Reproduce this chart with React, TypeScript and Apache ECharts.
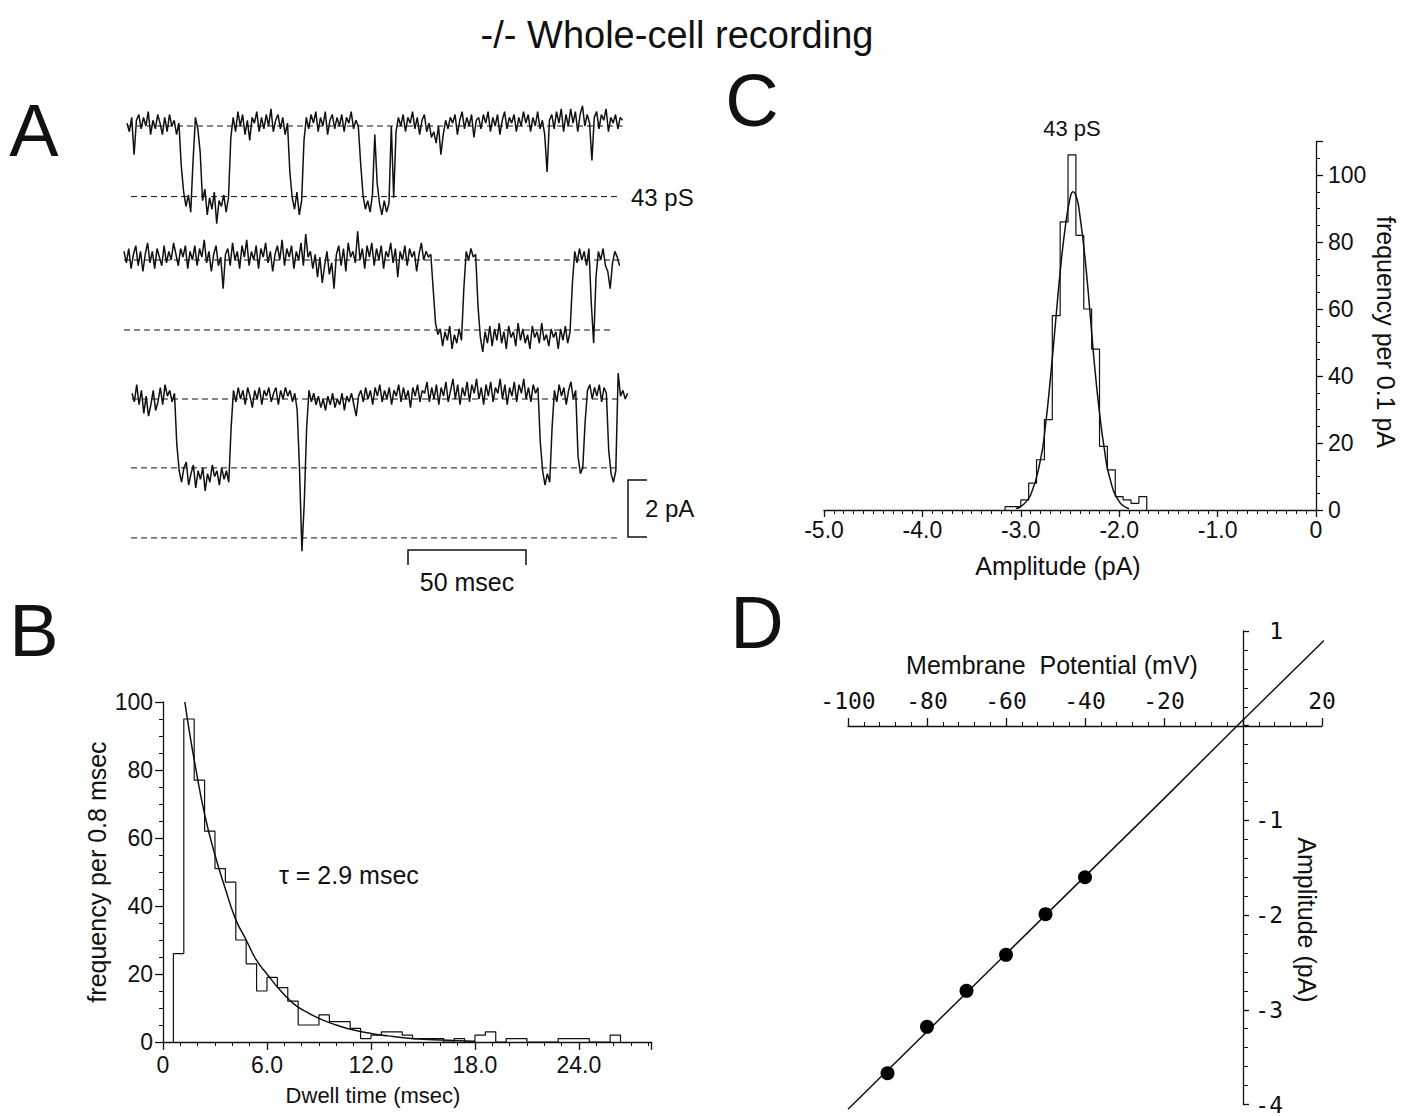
import React, { useEffect, useRef } from "react";
import * as echarts from "echarts";

// ---------- Panel A: single-channel traces (pA), one sample per msec ----------
const traceStepMs = 1;
const trace1 = [
  0.1, -0.2, 0.3, -1.0, 0.2, 0.4, -0.1, 0.3, 0.0, 0.5,
  -0.3, 0.2, -0.1, 0.4, 0.1, -0.3, 0.3, -0.2, 0.4, 0.0,
  0.2, -0.3, 0.1, -1.4, -2.3, -2.8, -2.4, -3.0, -1.2, 0.3,
  -0.1, -0.9, -2.6, -2.2, -3.1, -2.5, -2.9, -2.3, -3.4, -2.6,
  -2.8, -2.4, -3.0, -2.5, -0.4, 0.3, -0.2, 0.5, 0.0, 0.4,
  -0.3, 0.2, -0.5, 0.3, 0.1, 0.5, -0.2, 0.3, -0.1, 0.4,
  0.0, 0.6, -0.2, 0.2, 0.4, -0.1, 0.3, -0.3, 0.1, -1.6,
  -2.5, -2.9, -2.3, -3.1, -2.6, -0.5, 0.3, -0.1, 0.4, 0.1,
  0.5, -0.2, 0.3, 0.0, 0.5, -0.3, 0.2, 0.4, -0.1, 0.3,
  0.0, 0.4, -0.2, 0.3, 0.1, 0.5, -0.1, 0.2, 0.0, -1.3,
  -2.4, -2.9, -2.6, -3.0, -2.4, -0.3, -2.0, -2.7, -3.1, -2.6,
  -3.0, -2.7, 0.0, -2.5, -0.2, 0.3, 0.0, 0.4, -0.2, 0.3,
  0.1, 0.5, -0.1, 0.3, -0.3, 0.2, 0.4, -0.2, 0.1, -0.4,
  -0.2, -0.6, 0.0, -1.0, -0.3, 0.2, -0.1, 0.3, 0.1, 0.4,
  -0.3, 0.2, 0.5, -0.1, 0.3, 0.0, 0.4, -0.4, 0.2, 0.3,
  -0.1, 0.4, 0.1, 0.5, -0.2, 0.3, 0.0, 0.4, -0.3, 0.2,
  0.5, -0.1, 0.3, 0.1, 0.4, -0.2, 0.3, 0.0, 0.5, 0.1,
  0.4, -0.2, 0.3, 0.0, 0.5, -0.1, 0.2, -0.3, -1.6, 0.2,
  0.4, -0.1, 0.5, 0.1, 0.6, -0.2, 0.4, 0.0, 0.6, 0.1,
  0.5, -0.2, 0.4, 0.7, 0.0, 0.4, 0.1, -1.2, 0.3, 0.5,
  -0.1, 0.4, 0.2, 0.6, -0.2, 0.3, 0.1, 0.4, -0.1, 0.3, 0.2,
];
const trace2 = [
  0.3, -0.1, 0.4, -0.3, 0.2, 0.5, -0.2, 0.3, -0.4, 0.2,
  0.6, -0.1, 0.3, -0.3, 0.4, 0.1, -0.2, 0.5, -0.1, 0.3,
  0.0, 0.6, 0.2, -0.2, 0.4, 0.1, 0.5, -0.3, 0.3, 0.0,
  0.5, -0.2, 0.4, 0.1, 0.7, -0.1, 0.3, -0.4, 0.2, 0.5,
  -0.2, 0.1, -1.0, 0.2, 0.4, -0.2, 0.6, 0.0, 0.3, -0.3,
  0.5, 0.1, 0.7, -0.2, 0.3, 0.0, 0.5, -0.3, 0.4, 0.1,
  0.6, -0.1, 0.3, -0.4, 0.2, 0.5, 0.0, 0.7, -0.2, 0.4,
  0.1, 0.5, -0.3, 0.3, 0.0, 0.6, -0.2, 0.9, 0.1, 0.3,
  -0.3, 0.2, -0.6, 0.1, -0.8, -0.2, 0.3, -0.5, -0.1, -1.0,
  0.2, 0.5, -0.2, 0.4, -0.4, 0.6, 0.1, 0.3, -0.1, 1.0,
  0.0, 0.4, -0.3, 0.5, 0.1, 0.6, -0.2, 0.4, 0.0, 0.5,
  -0.3, 0.3, 0.1, 0.6, -0.1, 0.4, -0.6, 0.3, 0.0, 0.5,
  -0.2, 0.4, 0.1, 0.3, -0.4, 0.2, 0.6, 0.0, 0.3, 0.1,
  0.2, -1.0, -2.2, -2.6, -2.4, -3.0, -2.5, -2.8, -2.3, -3.1,
  -2.6, -2.9, -2.4, -2.8, -1.0, 0.3, 0.0, 0.4, 0.1, 0.2,
  -1.6, -2.7, -3.2, -2.5, -2.9, -2.3, -3.0, -2.4, -2.8, -2.2,
  -2.9, -2.5, -3.1, -2.3, -2.7, -2.5, -3.0, -2.2, -2.8, -2.4,
  -2.9, -2.6, -3.1, -2.3, -2.7, -2.5, -2.9, -2.2, -2.8, -2.6,
  -3.0, -2.4, -2.7, -2.5, -3.1, -2.4, -2.8, -2.3, -2.9, -2.5,
  -0.8, 0.3, -0.1, 0.4, 0.0, 0.3, -0.2, 0.4, -1.5, -2.9,
  -0.6, 0.3, 0.0, 0.4, -0.2, -0.4, -1.0, -0.1, 0.3, 0.1, -0.2,
];
const trace3 = [
  0.2, -0.1, 0.5, -0.2, 0.3, -0.5, 0.1, -0.6, -0.2, 0.3,
  -0.4, -0.1, 0.4, -0.2, 0.5, 0.1, 0.3, -0.1, 0.2, -1.6,
  -2.5, -2.9, -2.4, -2.2, -3.0, -2.6, -2.3, -3.1, -2.5, -2.8,
  -2.4, -3.2, -2.6, -2.9, -2.3, -2.7, -2.5, -3.0, -2.4, -2.8,
  -2.5, -2.9, -1.0, 0.3, -0.1, 0.4, 0.0, 0.3, -0.2, 0.4,
  0.1, -0.3, 0.3, 0.0, 0.4, -0.2, 0.3, 0.1, 0.4, -0.1,
  0.2, 0.4, -0.2, 0.3, 0.0, 0.4, 0.1, 0.3, -0.1, 0.2,
  -0.4, -2.5, -5.3, -3.6, -1.0, 0.3, -0.1, 0.2, -0.2, 0.1,
  -0.3, 0.0, -0.4, 0.1, -0.2, 0.2, -0.3, 0.0, -0.2, 0.2,
  -0.4, 0.1, -0.1, 0.2, -0.2, -0.6, 0.1, 0.3, -0.1, 0.4,
  0.0, 0.3, -0.2, 0.4, 0.1, 0.5, -0.1, 0.3, 0.0, 0.4,
  -0.2, 0.3, 0.1, 0.5, -0.1, 0.4, 0.0, 0.3, -0.3, 0.4,
  0.1, 0.5, -0.1, 0.3, 0.2, 0.6, -0.1, 0.4, 0.0, 0.5,
  -0.2, 0.4, 0.1, 0.6, -0.1, 0.3, 0.7, 0.0, 0.5, -0.2,
  0.4, 0.1, 0.6, -0.1, 0.5, 0.2, 0.7, 0.0, 0.4, -0.2,
  0.5, 0.1, 0.6, -0.1, 0.4, 0.2, 0.7, 0.0, 0.5, -0.2,
  0.4, 0.1, 0.6, -0.1, 0.5, 0.2, 0.7, 0.0, 0.4, -0.1,
  0.5, 0.2, 0.4, -1.5, -2.5, -3.0, -2.6, -2.9, -1.0, 0.3,
  -0.1, 0.5, 0.1, 0.4, -0.2, 0.3, 0.6, 0.0, 0.3, -2.0,
  -2.6, -2.4, -0.8, 0.3, 0.5, 0.0, 0.4, 0.1, 0.5, -0.1,
  0.4, 0.2, -1.8, -2.6, -2.9, -2.5, 0.9, 0.1, 0.3, 0.0, 0.2,
];
// dashed reference levels (pA) with their time span (msec)
const row1Levels = [0, -2.46];
const row1Spans = [[0, 210], [1.7, 208.3]];
const row2Levels = [0, -2.44];
const row2Spans = [[0, 210], [0, 206]];
const row3Levels = [0, -2.4, -4.84];
const row3Spans = [[0, 207], [-0.4, 205.5], [-0.4, 205.5]];

// ---------- Panel B: dwell-time histogram ----------
const dwellBinStart = 0.6;
const dwellBinWidth = 0.6;
const dwellCounts = [
  26, 95, 77, 62, 51, 47, 30, 23, 15, 19, 16, 12, 5, 5, 8, 6, 6, 4, 1, 2, 3, 3,
  2, 1, 1, 1, 0, 1, 0, 2, 3, 0, 1, 1, 0, 0, 0, 1, 1, 1, 0, 0, 2,
];
const dwellFitT = [1.26, 1.5, 1.8, 2.4, 3.0, 3.6, 4.2, 4.8, 5.4, 6.0, 6.8, 7.6, 8.4, 9.2, 10, 11, 12, 13, 14, 15, 16, 17, 18];
const dwellFitF = [100, 92, 83, 67, 55, 45, 36, 30, 24, 20, 15, 11, 8.5, 6.5, 5, 3.5, 2.5, 1.8, 1.2, 0.8, 0.6, 0.4, 0.2];
const dwellTicks = [0, 6, 12, 18, 24];

// ---------- Panel C: amplitude histogram ----------
const ampBinStart = -3.16;
const ampBinWidth = 0.08;
const ampCounts = [1, 1, 3, 8, 15, 27, 58, 86, 106, 82, 60, 48, 19, 12, 4, 3, 2, 4];
const ampFitX = [-3.05, -3.0, -2.9, -2.8, -2.75, -2.7, -2.65, -2.6, -2.55, -2.5, -2.47, -2.43, -2.4, -2.35, -2.3, -2.25, -2.2, -2.15, -2.1, -2.0, -1.9];
const ampFitF = [0.5, 1, 4.5, 15, 25, 39, 55, 71, 84, 93, 95, 93, 88, 76, 60, 43, 29, 18, 10, 2.5, 0.4];

// ---------- Panel D: I-V relation ----------
const potentials = [-90, -80, -70, -60, -50, -40];
const amplitudes = [-3.67, -3.18, -2.8, -2.42, -1.99, -1.6];
const ivFitV = [-100, -60, -20, 0, 20.5];
const ivFitI = [-4.05, -2.41, -0.77, 0.06, 0.9];

const FONT = "Liberation Sans, Arial, Helvetica, sans-serif";
const MONO = "DejaVu Sans Mono, Liberation Mono, monospace";
const INK = "#111";

function stepPoints(start: number, width: number, counts: number[]) {
  const pts: number[][] = [[start, 0]];
  counts.forEach((c, i) => pts.push([+(start + i * width).toFixed(4), c]));
  pts.push([+(start + counts.length * width).toFixed(4), 0]);
  return pts;
}

function zip(xs: number[], ys: number[]) {
  return xs.map((x, i) => [x, ys[i]]);
}

const lineStyle = { color: INK, width: 1.3 };
const minorLine = { color: INK, width: 1 };

function txt(x: number, y: number, text: string, size: number, align = "center", rotation = 0) {
  return {
    type: "text",
    x,
    y,
    rotation,
    style: { text, fontSize: size, fontFamily: FONT, fill: INK, align, verticalAlign: "middle" },
  };
}

export default function App() {
  const ref = useRef<HTMLDivElement>(null);
  useEffect(() => {
    if (!ref.current) return;
    const chart = echarts.init(ref.current, undefined, { renderer: "svg" });

    const pxMs = 2.36;
    const pxPA = 28.7;
    const traceGrid = (left: number, base: number, lo: number, hi: number) => ({
      left,
      top: base - hi * pxPA,
      width: 210 * pxMs,
      height: (hi - lo) * pxPA,
    });

    const traces = [trace1, trace2, trace3];
    const levelSets = [
      [row1Levels, row1Spans],
      [row2Levels, row2Spans],
      [row3Levels, row3Spans],
    ] as [number[], number[][]][];

    const series: any[] = [];
    levelSets.forEach(([levels, spans], gi) => {
      levels.forEach((lv, k) => {
        series.push({
          type: "line",
          xAxisIndex: gi,
          yAxisIndex: gi,
          data: [
            [spans[k][0], lv],
            [spans[k][1], lv],
          ],
          showSymbol: false,
          silent: true,
          clip: false,
          z: 1,
          lineStyle: { color: INK, width: 1, type: [6, 4] },
        });
      });
    });
    traces.forEach((tr, gi) => {
      series.push({
        type: "line",
        xAxisIndex: gi,
        yAxisIndex: gi,
        data: tr.map((v, k) => [k * traceStepMs, v]),
        showSymbol: false,
        clip: false,
        z: 3,
        lineStyle: { color: INK, width: 1.5 },
      });
    });

    series.push(
      {
        type: "line",
        name: "dwell histogram",
        xAxisIndex: 3,
        yAxisIndex: 3,
        step: "end",
        data: stepPoints(dwellBinStart, dwellBinWidth, dwellCounts),
        showSymbol: false,
        lineStyle: { color: INK, width: 1.2 },
      },
      {
        type: "line",
        name: "dwell fit",
        xAxisIndex: 3,
        yAxisIndex: 3,
        smooth: true,
        data: zip(dwellFitT, dwellFitF),
        showSymbol: false,
        lineStyle: { color: INK, width: 1.5 },
      },
      {
        type: "line",
        name: "amplitude histogram",
        xAxisIndex: 4,
        yAxisIndex: 4,
        step: "end",
        data: stepPoints(ampBinStart, ampBinWidth, ampCounts),
        showSymbol: false,
        lineStyle: { color: INK, width: 1.2 },
      },
      {
        type: "line",
        name: "amplitude fit",
        xAxisIndex: 4,
        yAxisIndex: 4,
        smooth: true,
        data: zip(ampFitX, ampFitF),
        showSymbol: false,
        lineStyle: { color: INK, width: 1.5 },
      },
      {
        type: "line",
        name: "I-V fit",
        xAxisIndex: 5,
        yAxisIndex: 5,
        data: zip(ivFitV, ivFitI),
        showSymbol: false,
        clip: false,
        lineStyle: { color: INK, width: 1.5 },
      },
      {
        type: "scatter",
        name: "I-V points",
        xAxisIndex: 5,
        yAxisIndex: 5,
        data: zip(potentials, amplitudes),
        symbolSize: 14,
        itemStyle: { color: "#000", opacity: 1 },
        z: 5,
      }
    );

    const hidden = (gi: number, min: number, max: number) => ({
      gridIndex: gi,
      type: "value",
      min,
      max,
      show: false,
    });

    const option: any = {
      animation: false,
      backgroundColor: "#fff",
      textStyle: { fontFamily: FONT },
      grid: [
        traceGrid(127, 126, -3.5, 1.2),
        traceGrid(124, 260, -3.5, 1.2),
        traceGrid(132, 399, -5.6, 1.2),
        { left: 163, top: 702, width: 488.7, height: 340 },
        { left: 824, top: 141.5, width: 492, height: 368.5 },
        { left: 848, top: 631, width: 474, height: 475 },
      ],
      xAxis: [
        hidden(0, 0, 210),
        hidden(1, 0, 210),
        hidden(2, 0, 210),
        {
          gridIndex: 3,
          type: "value",
          min: 0,
          max: 28.2,
          interval: 6,
          axisLine: { onZero: false, lineStyle },
          axisTick: { length: 8, lineStyle },
          minorTick: { show: true, splitNumber: 6, length: 4, lineStyle: minorLine },
          splitLine: { show: false },
          axisLabel: {
            color: INK,
            fontSize: 23,
            fontFamily: FONT,
            margin: 11,
            showMaxLabel: false,
            formatter: (v: number) =>
              dwellTicks.includes(v) ? (v === 0 ? "0" : v.toFixed(1)) : "",
          },
        },
        {
          gridIndex: 4,
          type: "value",
          min: -5,
          max: 0,
          interval: 1,
          axisLine: { onZero: false, lineStyle },
          axisTick: { length: 7, lineStyle },
          minorTick: { show: true, splitNumber: 10, length: 4, lineStyle: minorLine },
          splitLine: { show: false },
          axisLabel: {
            color: INK,
            fontSize: 23,
            fontFamily: FONT,
            margin: 8,
            formatter: (v: number) => (v === 0 ? "0" : v.toFixed(1)),
          },
        },
        {
          gridIndex: 5,
          type: "value",
          position: "top",
          offset: -95,
          min: -100,
          max: 20,
          interval: 20,
          axisLine: { onZero: false, lineStyle },
          axisTick: { length: 8, lineStyle },
          minorTick: { show: true, splitNumber: 5, length: 4, lineStyle: minorLine },
          splitLine: { show: false },
          axisLabel: {
            color: INK,
            fontSize: 23,
            fontFamily: MONO,
            margin: 14,
            showMinLabel: true,
            showMaxLabel: true,
            formatter: (v: number) => (v === 0 ? "" : String(v)),
          },
        },
      ],
      yAxis: [
        hidden(0, -3.5, 1.2),
        hidden(1, -3.5, 1.2),
        hidden(2, -5.6, 1.2),
        {
          gridIndex: 3,
          type: "value",
          min: 0,
          max: 100,
          interval: 20,
          axisLine: { show: true, onZero: false, lineStyle },
          axisTick: { show: true, length: 8, lineStyle },
          minorTick: { show: true, splitNumber: 4, length: 4, lineStyle: minorLine },
          splitLine: { show: false },
          axisLabel: { color: INK, fontSize: 23, fontFamily: FONT, margin: 10 },
        },
        {
          gridIndex: 4,
          type: "value",
          position: "right",
          min: 0,
          max: 110,
          interval: 20,
          axisLine: { show: true, onZero: false, lineStyle },
          axisTick: { show: true, length: 7, lineStyle },
          minorTick: { show: true, splitNumber: 4, length: 4, lineStyle: minorLine },
          splitLine: { show: false },
          axisLabel: { color: INK, fontSize: 23, fontFamily: FONT, margin: 12, showMaxLabel: false },
        },
        {
          gridIndex: 5,
          type: "value",
          position: "right",
          offset: -79,
          min: -4,
          max: 1,
          interval: 1,
          axisLine: { show: true, onZero: false, lineStyle },
          axisTick: { show: true, length: 6, lineStyle },
          minorTick: { show: true, splitNumber: 5, length: 5, lineStyle: minorLine },
          splitLine: { show: false },
          axisLabel: {
            color: INK,
            fontSize: 23,
            fontFamily: MONO,
            margin: 40,
            align: "right",
            formatter: (v: number) => (v === 0 ? "" : String(v)),
          },
        },
      ],
      series,
      graphic: [
        txt(677, 35, "-/- Whole-cell recording", 38),
        txt(34, 130, "A", 74),
        txt(34, 630, "B", 74),
        txt(752, 100, "C", 74),
        txt(757, 622, "D", 74),
        txt(631, 197, "43 pS", 24, "left"),
        txt(1072, 128, "43 pS", 22),
        txt(645, 508, "2 pA", 24, "left"),
        txt(467, 582, "50 msec", 25),
        { type: "polyline", shape: { points: [[647, 480], [628, 480], [628, 537], [647, 537]] }, style: { stroke: INK, lineWidth: 1.5, fill: "none" } },
        { type: "polyline", shape: { points: [[408, 565], [408, 550], [526, 550], [526, 565]] }, style: { stroke: INK, lineWidth: 1.5, fill: "none" } },
        txt(279, 875, "τ = 2.9 msec", 25, "left"),
        txt(97, 872, "frequency per 0.8 msec", 25, "center", Math.PI / 2),
        txt(373, 1095, "Dwell time (msec)", 22),
        txt(1058, 566, "Amplitude (pA)", 25),
        txt(1386, 332, "frequency per 0.1 pA", 25, "center", -Math.PI / 2),
        txt(1052, 665, "Membrane  Potential (mV)", 25),
        txt(1307, 920, "Amplitude (pA)", 25, "center", -Math.PI / 2),
      ],
    };

    chart.setOption(option);
    return () => chart.dispose();
  }, []);

  return (
    <div
      ref={ref}
      style={{ position: "absolute", left: 0, top: 0, width: 1413, height: 1116, background: "#fff" }}
    />
  );
}
